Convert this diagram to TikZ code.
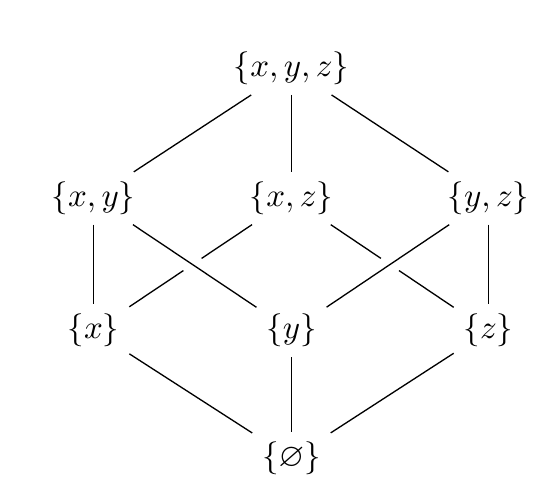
\documentclass[tikz,border=0pt]{standalone}
\usepackage{amssymb}
\usetikzlibrary{calc}
\begin{document}
\begin{tikzpicture}[x=0.303pt,y=-0.303pt,
  setnode/.style={inner sep=2.8pt, anchor=base},
  edge/.style={line width=0.4pt}]
\useasboundingbox (0,0) rectangle (540,489);
\node[setnode] (xyz) at (291.5,76.8) {$\{x,y,z\}$};
\node[setnode] (xy) at (93.5,206.5) {$\{x,y\}$};
\node[setnode] (xz) at (291.5,206.5) {$\{x,z\}$};
\node[setnode] (yz) at (488.5,206.5) {$\{y,z\}$};
\node[setnode] (x) at (93.5,339) {$\{x\}$};
\node[setnode] (y) at (291.5,339) {$\{y\}$};
\node[setnode] (z) at (488.5,339) {$\{z\}$};
\node[setnode] (e) at (291.5,466.5) {$\{\varnothing\}$};
\draw[edge] (xyz) -- (xy);
\draw[edge] (xyz) -- (xz);
\draw[edge] (xyz) -- (yz);
\draw[edge] (xy) -- (x);
\draw[edge] (xy) -- (y);
\draw[edge] (yz) -- (y);
\draw[edge] (yz) -- (z);
\coordinate (c1) at (intersection of xz--x and xy--y);
\coordinate (c2) at (intersection of xz--z and yz--y);
\draw[edge] (xz) -- ($(c1)!3.3pt!(xz)$);
\draw[edge] ($(c1)!3.3pt!(x)$) -- (x);
\draw[edge] (xz) -- ($(c2)!3.3pt!(xz)$);
\draw[edge] ($(c2)!3.3pt!(z)$) -- (z);
\draw[edge] (x) -- (e);
\draw[edge] (y) -- (e);
\draw[edge] (z) -- (e);
\end{tikzpicture}
\end{document}
